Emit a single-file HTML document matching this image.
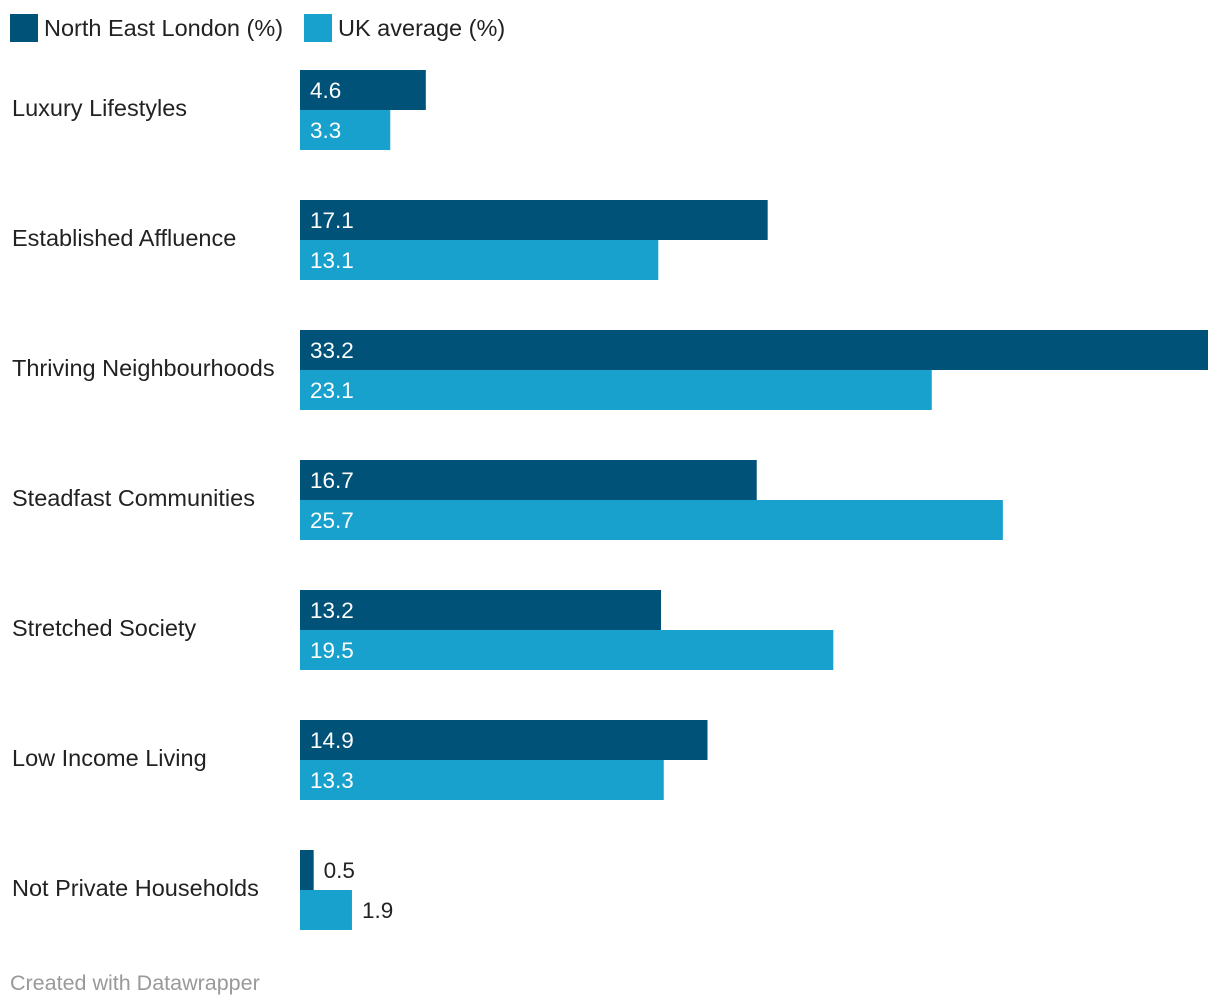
<!DOCTYPE html>
<html><head><meta charset="utf-8">
<style>
body{margin:0;background:#fff;width:1220px;height:1006px;overflow:hidden;font-family:"Liberation Sans",sans-serif;}
svg{display:block}
</style></head>
<body>
<svg id="chart" width="1220" height="1006">
  <g>
    <rect x="10" y="14" width="28" height="28" fill="#005279"/>
    <text x="44" y="36" font-size="23.5" fill="#222">North East London (%)</text>
    <rect x="304" y="14" width="28" height="28" fill="#18a1cd"/>
    <text x="338" y="36" font-size="23.5" fill="#222">UK average (%)</text>
  </g>
  <g id="bars"></g>
  <text x="10" y="990" font-size="21.5" fill="#999">Created with Datawrapper</text>
</svg>
<script>
const categories = ["Luxury Lifestyles","Established Affluence","Thriving Neighbourhoods","Steadfast Communities","Stretched Society","Low Income Living","Not Private Households"];
const nelValues = [4.6,17.1,33.2,16.7,13.2,14.9,0.5];
const ukValues = [3.3,13.1,23.1,25.7,19.5,13.3,1.9];
const maxVal = 33.2;

const NS="http://www.w3.org/2000/svg";
const x0=300, plotW=908, top0=70, groupH=130, barH=40;
function xScale(v){return v/maxVal*plotW;}
const g=document.getElementById('bars');
function mk(tag,attrs){const e=document.createElementNS(NS,tag);for(const k in attrs)e.setAttribute(k,attrs[k]);return e;}
categories.forEach((c,i)=>{
  const gy=top0+i*groupH;
  const lbl=mk('text',{x:12,y:gy+46,'font-size':23.5,fill:'#222'});
  lbl.textContent=c;
  
  
  g.appendChild(lbl);
  [[nelValues[i],'#005279','bar-nel'],[ukValues[i],'#18a1cd','bar-uk']].forEach((s,j)=>{
    const w=xScale(s[0]);
    const y=gy+j*barH;
    const r=mk('rect',{x:x0,y:y,width:w,height:barH,fill:s[1]});
    
    
    g.appendChild(r);
    const inside=w>60;
    const t=mk('text',{x:inside?x0+10:x0+w+10,y:y+28,'font-size':22.5,fill:inside?'#fff':'#222'});
    t.textContent=s[0].toFixed(1);
    
    
    g.appendChild(t);
  });
});
</script>
</body></html>
